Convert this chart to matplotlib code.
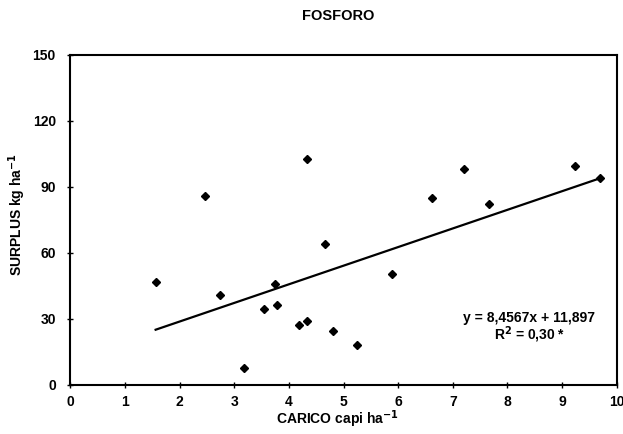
import matplotlib.pyplot as plt
import numpy as np

plt.rcParams['font.family'] = ['Liberation Sans Narrow', 'Liberation Sans', 'DejaVu Sans']
plt.rcParams['font.weight'] = 'bold'

# carico (capi/ha) vs surplus fosforo (kg/ha)
carico = [1.56, 2.47, 2.73, 3.18, 3.54, 3.74, 3.79, 4.18, 4.33, 4.33,
          4.66, 4.81, 5.25, 5.89, 6.61, 7.20, 7.67, 9.23, 9.70]
surplus = [46.7, 85.6, 41.0, 7.5, 34.4, 46.0, 36.2, 27.1, 28.9, 102.4,
           64.1, 24.3, 18.3, 50.5, 84.9, 98.1, 82.0, 99.4, 94.1]

slope = 8.4567
intercept = 11.897
eq_text = 'y = 8,4567x + 11,897'
r2_text = 'R$^\\mathbf{2}$ = 0,30 *'

fig = plt.figure(figsize=(6.23, 4.34), dpi=100)
ax = fig.add_axes([0.113, 0.113, 0.877, 0.761])

ax.plot(carico, surplus, 'D', color='black', markersize=4.5, zorder=3)

xfit = np.array([min(carico), max(carico)])
ax.plot(xfit, slope * xfit + intercept, color='black', linewidth=1.6)

ax.set_xlim(0, 10)
ax.set_ylim(0, 150)
ax.set_xticks(range(0, 11))
ax.set_yticks(range(0, 151, 30))
ax.tick_params(direction='inout', length=5, width=1, labelsize=10)
ax.tick_params(axis='x', pad=5)
ax.tick_params(axis='y', pad=8)
for s in ax.spines.values():
    s.set_linewidth(1.5)

ax.text(8.4, 30.3, eq_text, ha='center', va='center', fontsize=10, fontweight='bold')
ax.text(8.4, 23.0, r2_text, ha='center', va='center', fontsize=10, fontweight='bold')

fig.text(0.543, 0.963, 'FOSFORO', ha='center', va='center', fontsize=10.5, fontweight='bold')
fig.text(0.541, 0.033, 'CARICO capi ha$^{\\mathbf{-1}}$', ha='center', va='center',
         fontsize=10, fontweight='bold')
fig.text(0.027, 0.505, 'SURPLUS kg ha$^{\\mathbf{-1}}$', ha='center', va='center',
         rotation=90, fontsize=10, fontweight='bold')

fig.savefig('out.png', dpi=100)
